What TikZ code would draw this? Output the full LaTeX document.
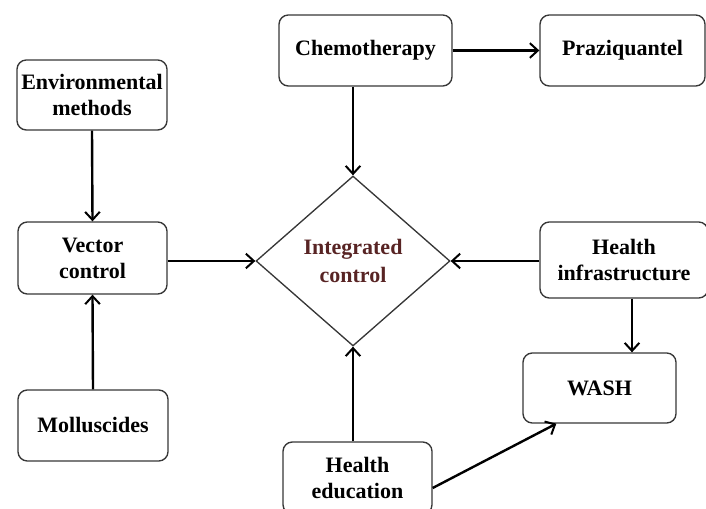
\documentclass[tikz,border=0pt]{standalone}
\usepackage{fontspec}
\setmainfont{Liberation Serif}
\usepackage{tikz}
\usetikzlibrary{arrows.meta,calc,shapes.geometric}

\definecolor{boxgray}{RGB}{55,55,55}
\definecolor{icred}{RGB}{88,36,36}

\tikzset{
  box/.style={draw=boxgray,line width=1pt,rounded corners=7pt,fill=white,
    align=center,inner sep=0pt,font=\fontsize{16.5}{19.5}\selectfont\bfseries},
  arr/.style={line width=1.8pt,-{Straight Barb[length=6pt,width=11pt,line width=1.5pt]}}
}

\begin{document}
\begin{tikzpicture}[x=0.75pt,y=-0.75pt]
        \useasboundingbox (0,0) rectangle (706,509);
        \node[box,minimum width=173*0.75pt,minimum height=71*0.75pt] (chemo) at (365.5,50.5) {Chemotherapy};
        \node[box,minimum width=165*0.75pt,minimum height=71*0.75pt] (praz) at (622.5,50.5) {Praziquantel};
        \node[box,minimum width=150*0.75pt,minimum height=70*0.75pt] (env) at (92,95) {Environmental\\methods};
        \node[box,minimum width=149*0.75pt,minimum height=72*0.75pt] (vector) at (92.5,258) {Vector\\control};
        \node[box,minimum width=150*0.75pt,minimum height=71*0.75pt] (moll) at (93,425.5) {Molluscides};
        \node[draw=boxgray,line width=1pt,diamond,inner sep=0pt,align=center,
              minimum width=194*0.75pt,minimum height=170*0.75pt,text=icred,
              font=\fontsize{16.5}{21}\selectfont\bfseries] (ic) at (353,261) {Integrated\\control};
        \node[box,minimum width=168*0.75pt,minimum height=76*0.75pt] (hinfra) at (624,260) {Health\\infrastructure};
        \node[box,minimum width=153*0.75pt,minimum height=70*0.75pt] (wash) at (599.5,388) {WASH};
        \node[box,minimum width=149*0.75pt,minimum height=72*0.75pt] (hedu) at (357.5,478) {Health\\education};
        \draw[arr] (chemo.east) -- (chemo.east -| praz.west);
        \draw[arr] (ic.north |- chemo.south) -- (ic.north);
        \draw[arr] (env.south) -- (vector.north);
        \draw[arr] (moll.north) -- (vector.south);
        \draw[arr] (vector.east |- ic.west) -- (ic.west);
        \draw[arr] (hinfra.west |- ic.east) -- (ic.east);
        \draw[arr] ($(hinfra.south)+(8,0)$) coordinate (hw) -- (hw |- wash.north);
        \draw[arr] (ic.south |- hedu.north) -- (ic.south);
        \draw[arr] ($(hedu.east)+(0,10)$) -- ($(wash.south west)+(34,0)$);
      \end{tikzpicture}
\end{document}
